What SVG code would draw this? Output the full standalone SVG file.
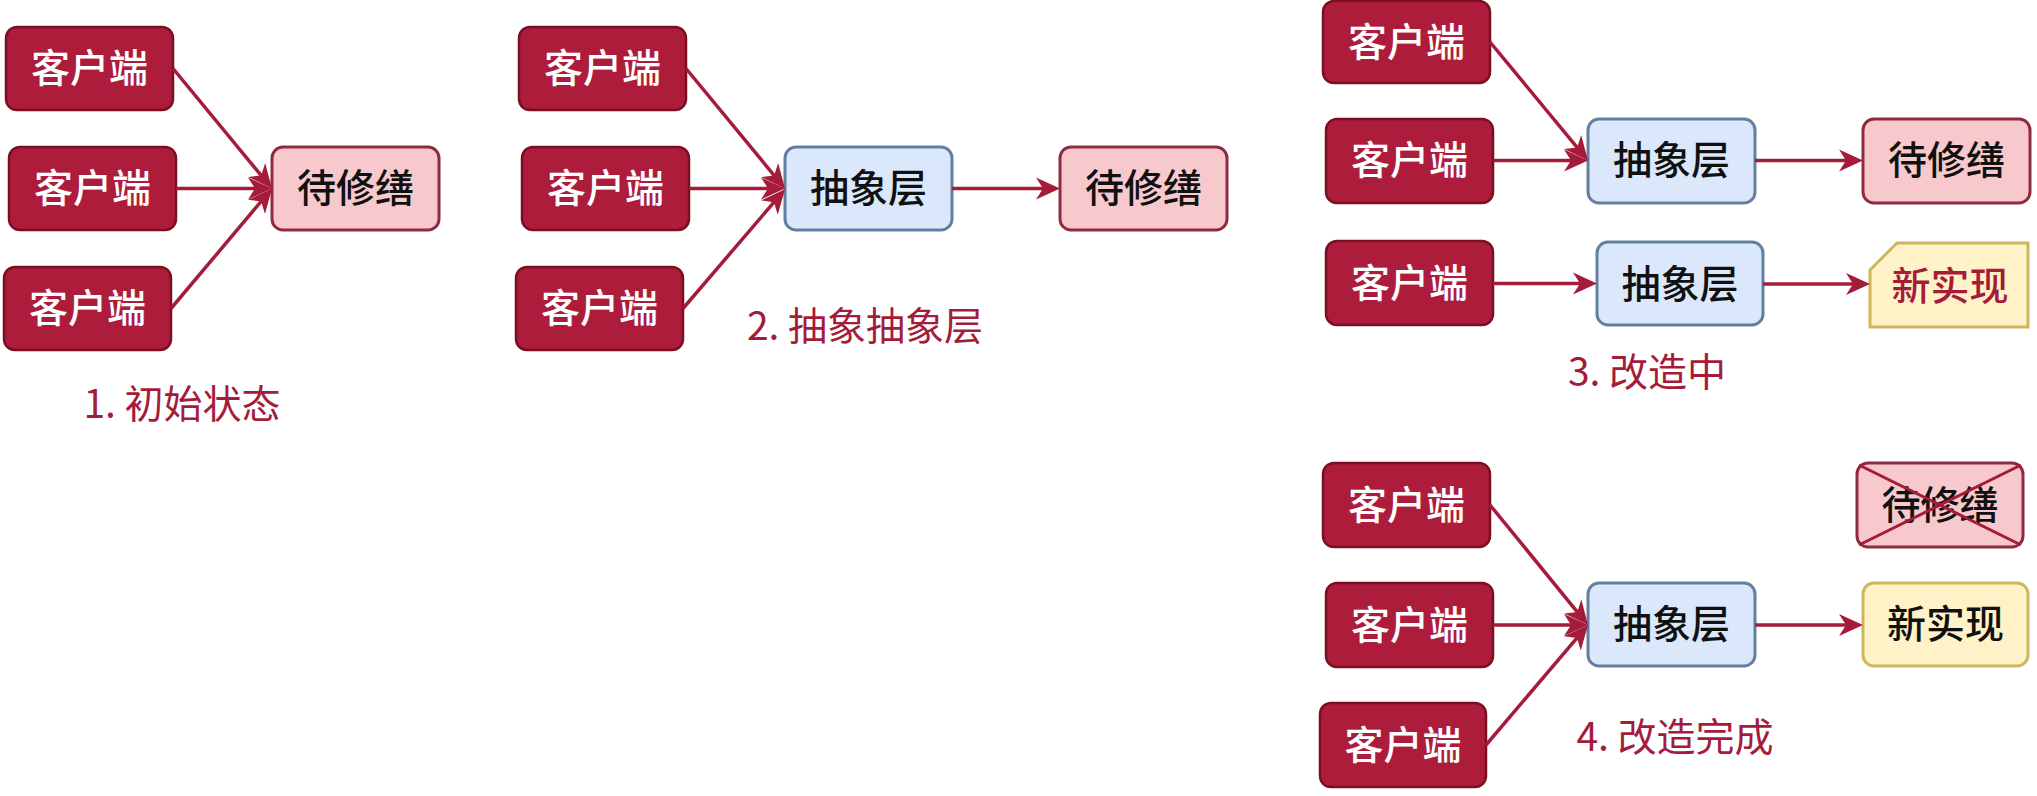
<svg xmlns="http://www.w3.org/2000/svg" width="2037" height="796" viewBox="0 0 2037 796">
<style>
  text { font-family: "Noto Sans CJK SC", "Noto Sans", sans-serif; font-size: 39px; font-weight: 500; text-anchor: middle; }
  .client rect { fill: #ad1d3b; stroke: #7a0f22; stroke-width: 2.5; }
  .client text { fill: #ffffff; }
  .old rect { fill: #f7c9cd; stroke: #8f2a40; stroke-width: 3; }
  .abs rect { fill: #dbe8fb; stroke: #637f9f; stroke-width: 3; }
  .new rect, .new path { fill: #fff2c6; stroke: #cfb65a; stroke-width: 3; }
  .dark { fill: #111111; }
  .red { fill: #a51c3a; }
  .label { fill: #a51c3a; font-size: 39px; font-weight: 400; }
  .edge { stroke: #a51c3a; stroke-width: 3.5; fill: none; marker-end: url(#arrow); }
  .cross { stroke: #a51c3a; stroke-width: 3; }
</style>
<defs>
  <marker id="arrow" viewBox="0 0 24 24" refX="14" refY="12" markerWidth="24" markerHeight="24" markerUnits="userSpaceOnUse" orient="auto">
    <path d="M0,1 L24,12 L0,23 L7,12 Z" fill="#a51c3a"/>
  </marker>
</defs>
<rect width="2037" height="796" fill="#ffffff"/>

<!-- Group 1 -->
<g id="g1-client1" class="client"><rect x="6" y="27" width="167" height="83" rx="11"/><text x="89.5" y="82">客户端</text></g>
<g id="g1-client2" class="client"><rect x="9" y="147" width="167" height="83" rx="11"/><text x="92.5" y="202">客户端</text></g>
<g id="g1-client3" class="client"><rect x="4" y="267" width="167" height="83" rx="11"/><text x="87.5" y="322">客户端</text></g>
<g id="g1-old" class="old"><rect x="272" y="147" width="167" height="83" rx="11"/><text class="dark" x="355.5" y="202">待修缮</text></g>
<text id="g1-label" class="label" x="182" y="418">1. 初始状态</text>

<!-- Group 2 -->
<g id="g2-client1" class="client"><rect x="519" y="27" width="167" height="83" rx="11"/><text x="602.5" y="82">客户端</text></g>
<g id="g2-client2" class="client"><rect x="522" y="147" width="167" height="83" rx="11"/><text x="605.5" y="202">客户端</text></g>
<g id="g2-client3" class="client"><rect x="516" y="267" width="167" height="83" rx="11"/><text x="599.5" y="322">客户端</text></g>
<g id="g2-abs" class="abs"><rect x="785" y="147" width="167" height="83" rx="11"/><text class="dark" x="868.5" y="202">抽象层</text></g>
<g id="g2-old" class="old"><rect x="1060" y="147" width="167" height="83" rx="11"/><text class="dark" x="1143.5" y="202">待修缮</text></g>
<text id="g2-label" class="label" x="865" y="340">2. 抽象抽象层</text>

<!-- Group 3 -->
<g id="g3-client1" class="client"><rect x="1323" y="1" width="167" height="82" rx="11"/><text x="1406.5" y="56">客户端</text></g>
<g id="g3-client2" class="client"><rect x="1326" y="119" width="167" height="84" rx="11"/><text x="1409.5" y="174">客户端</text></g>
<g id="g3-abs1" class="abs"><rect x="1588" y="119" width="167" height="84" rx="11"/><text class="dark" x="1671.5" y="174">抽象层</text></g>
<g id="g3-old" class="old"><rect x="1863" y="119" width="167" height="84" rx="11"/><text class="dark" x="1946.5" y="174">待修缮</text></g>
<g id="g3-client3" class="client"><rect x="1326" y="241" width="167" height="84" rx="11"/><text x="1409.5" y="297">客户端</text></g>
<g id="g3-abs2" class="abs"><rect x="1597" y="242" width="166" height="83" rx="11"/><text class="dark" x="1680" y="298">抽象层</text></g>
<g id="g3-new" class="new"><path d="M1897,243 L2028,243 L2028,327 L1870,327 L1870,270 Z"/><text class="red" x="1950" y="300">新实现</text></g>
<text id="g3-label" class="label" x="1647" y="386">3. 改造中</text>

<!-- Group 4 -->
<g id="g4-client1" class="client"><rect x="1323" y="463" width="167" height="84" rx="11"/><text x="1406.5" y="519">客户端</text></g>
<g id="g4-client2" class="client"><rect x="1326" y="583" width="167" height="84" rx="11"/><text x="1409.5" y="639">客户端</text></g>
<g id="g4-client3" class="client"><rect x="1320" y="703" width="166" height="84" rx="11"/><text x="1403" y="759">客户端</text></g>
<g id="g4-abs" class="abs"><rect x="1588" y="583" width="167" height="83" rx="11"/><text class="dark" x="1671.5" y="638">抽象层</text></g>
<g id="g4-old" class="old"><rect x="1857" y="463" width="166" height="84" rx="11"/><text class="dark" x="1940" y="519">待修缮</text><line class="cross" x1="1859" y1="465" x2="2021" y2="545"/><line class="cross" x1="1859" y1="545" x2="2021" y2="465"/></g>
<g id="g4-new" class="new"><rect x="1863" y="583" width="165" height="83" rx="11"/><text class="dark" x="1945.5" y="638">新实现</text></g>
<text id="g4-label" class="label" x="1675" y="751">4. 改造完成</text>

<!-- Connectors -->
<g id="connectors">
  <line class="edge" x1="173" y1="68.5" x2="265.6" y2="180.8"/>
  <line class="edge" x1="176" y1="188.5" x2="262" y2="188.5"/>
  <line class="edge" x1="171" y1="308.5" x2="265.6" y2="196.1"/>

  <line class="edge" x1="686" y1="68.5" x2="778.6" y2="180.8"/>
  <line class="edge" x1="689" y1="188.5" x2="775" y2="188.5"/>
  <line class="edge" x1="683" y1="308.5" x2="778.5" y2="196.9"/>
  <line class="edge" x1="952" y1="188.5" x2="1050" y2="188.5"/>

  <line class="edge" x1="1490" y1="42" x2="1581.6" y2="152.8"/>
  <line class="edge" x1="1493" y1="160.5" x2="1578" y2="160.5"/>
  <line class="edge" x1="1755" y1="160.5" x2="1853" y2="160.5"/>
  <line class="edge" x1="1493" y1="283.5" x2="1587" y2="283.5"/>
  <line class="edge" x1="1763" y1="284" x2="1860" y2="284"/>

  <line class="edge" x1="1490" y1="505" x2="1581.7" y2="617.3"/>
  <line class="edge" x1="1493" y1="625" x2="1578" y2="625"/>
  <line class="edge" x1="1486" y1="745" x2="1581.5" y2="632.6"/>
  <line class="edge" x1="1755" y1="625" x2="1853" y2="625"/>
</g>
</svg>
